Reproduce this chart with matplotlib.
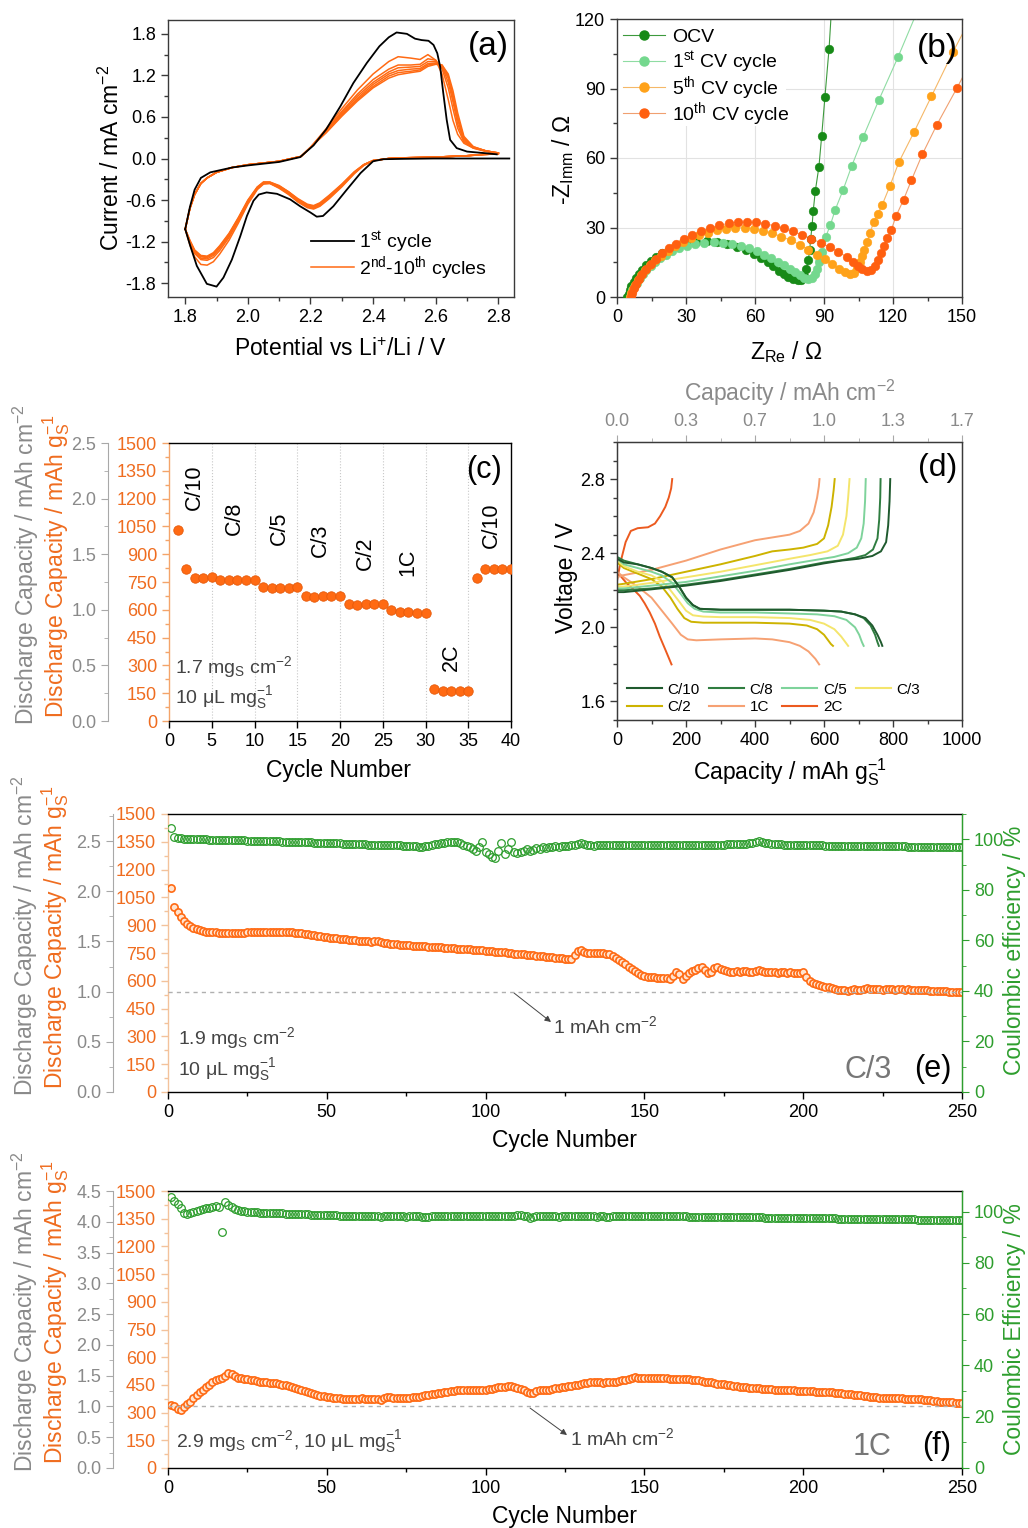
import numpy as np
import matplotlib
matplotlib.use('Agg')
import matplotlib.pyplot as plt
from matplotlib.ticker import MultipleLocator, FormatStrFormatter, FixedLocator, FixedFormatter
from matplotlib.lines import Line2D
from matplotlib.patches import Rectangle

plt.rcParams.update({
    'font.family': ['Liberation Sans', 'DejaVu Sans'],
    'mathtext.fontset': 'custom',
    'mathtext.rm': 'Liberation Sans',
    'mathtext.it': 'Liberation Sans:italic',
    'mathtext.bf': 'Liberation Sans:bold',
    'mathtext.default': 'regular',
    'axes.unicode_minus': False,
})

# ------------------------------------------------------------------ data
# (a) cyclic voltammetry
a_bk_up_v = [1.80, 1.815, 1.83, 1.85, 1.88, 1.95, 2.00, 2.10, 2.167, 2.21, 2.25, 2.295, 2.337, 2.38, 2.42,
             2.45, 2.475, 2.508, 2.534, 2.555, 2.577, 2.593, 2.605, 2.614, 2.624, 2.635, 2.646, 2.667, 2.70,
             2.75, 2.795]
a_bk_up_i = [-1.02, -0.70, -0.45, -0.28, -0.20, -0.13, -0.10, -0.05, 0.02, 0.19, 0.42, 0.75, 1.09, 1.38, 1.62,
             1.75, 1.82, 1.80, 1.73, 1.71, 1.70, 1.64, 1.52, 1.33, 0.95, 0.56, 0.27, 0.15, 0.10, 0.08, 0.06]
a_bk_dn_v = [2.835, 2.70, 2.593, 2.50, 2.433, 2.40, 2.36, 2.316, 2.273, 2.24, 2.22, 2.20, 2.167, 2.135, 2.093,
             2.06, 2.035, 2.018, 1.997, 1.976, 1.949, 1.922, 1.90, 1.869, 1.837, 1.816, 1.80]
a_bk_dn_i = [0.0, 0.0, 0.0, -0.005, -0.01, -0.04, -0.21, -0.45, -0.69, -0.83, -0.84, -0.78, -0.69, -0.59, -0.51,
             -0.49, -0.52, -0.61, -0.83, -1.12, -1.46, -1.72, -1.85, -1.81, -1.55, -1.26, -1.02]

a_or_up_v = [1.80, 1.815, 1.83, 1.85, 1.87, 1.90, 1.95, 2.00, 2.10, 2.17, 2.20, 2.25, 2.30, 2.35, 2.40, 2.45,
             2.48, 2.52, 2.55, 2.575, 2.60, 2.62, 2.64, 2.655, 2.67, 2.69, 2.72, 2.76, 2.80]
a_up_c2 = [-1.02, -0.72, -0.52, -0.36, -0.28, -0.20, -0.13, -0.09, -0.04, 0.03, 0.16,
           0.43, 0.72, 0.99, 1.22, 1.40, 1.47, 1.45, 1.43, 1.50, 1.42, 1.22, 0.85, 0.55, 0.35, 0.22, 0.15, 0.10, 0.07]
a_up_c3 = [-1.02, -0.72, -0.52, -0.36, -0.28, -0.20, -0.13, -0.09, -0.04, 0.03, 0.16,
           0.41, 0.68, 0.93, 1.14, 1.29, 1.35, 1.35, 1.36, 1.44, 1.42, 1.30, 1.02, 0.72, 0.44, 0.24, 0.15, 0.11, 0.07]
a_up_c4 = [-1.02, -0.72, -0.52, -0.36, -0.28, -0.20, -0.13, -0.09, -0.04, 0.03, 0.16,
           0.40, 0.66, 0.90, 1.10, 1.25, 1.31, 1.32, 1.33, 1.40, 1.40, 1.33, 1.10, 0.82, 0.50, 0.26, 0.16, 0.11, 0.08]
a_up_c6 = [-1.02, -0.72, -0.52, -0.36, -0.28, -0.20, -0.13, -0.09, -0.04, 0.03, 0.16,
           0.39, 0.64, 0.87, 1.07, 1.22, 1.27, 1.29, 1.30, 1.37, 1.38, 1.34, 1.16, 0.88, 0.56, 0.28, 0.16, 0.11, 0.08]
a_up_c8 = [-1.02, -0.72, -0.52, -0.36, -0.28, -0.20, -0.13, -0.09, -0.04, 0.03, 0.16,
           0.38, 0.62, 0.85, 1.04, 1.19, 1.24, 1.26, 1.28, 1.35, 1.37, 1.35, 1.19, 0.92, 0.60, 0.30, 0.17, 0.11, 0.08]
a_up_c10 = [-1.02, -0.72, -0.52, -0.36, -0.28, -0.20, -0.13, -0.09, -0.04, 0.03, 0.16,
            0.37, 0.61, 0.83, 1.02, 1.16, 1.21, 1.24, 1.26, 1.33, 1.36, 1.35, 1.22, 0.98, 0.66, 0.32, 0.17, 0.11, 0.08]

a_or_dn_v = [2.80, 2.70, 2.60, 2.50, 2.45, 2.40, 2.37, 2.34, 2.30, 2.26, 2.23, 2.21, 2.19, 2.16, 2.13, 2.10,
             2.07, 2.05, 2.03, 2.00, 1.97, 1.94, 1.91, 1.89, 1.87, 1.85, 1.83, 1.815, 1.80]
a_dn_c2 = [0.07, 0.04, 0.02, 0.01, 0.0, -0.03, -0.10, -0.22, -0.41, -0.58, -0.69, -0.73, -0.71, -0.63, -0.52,
           -0.43, -0.36, -0.37, -0.45, -0.66, -0.93, -1.18, -1.38, -1.49, -1.54, -1.53, -1.42, -1.25, -1.02]
a_dn_c3 = [0.07, 0.04, 0.02, 0.01, 0.0, -0.03, -0.10, -0.21, -0.40, -0.57, -0.68, -0.72, -0.70, -0.62, -0.51,
           -0.42, -0.36, -0.36, -0.44, -0.64, -0.90, -1.14, -1.33, -1.43, -1.47, -1.46, -1.37, -1.22, -1.02]
a_dn_c4 = [0.07, 0.04, 0.02, 0.01, 0.0, -0.03, -0.09, -0.21, -0.39, -0.56, -0.67, -0.71, -0.69, -0.61, -0.50,
           -0.41, -0.35, -0.35, -0.43, -0.63, -0.88, -1.12, -1.30, -1.40, -1.45, -1.44, -1.36, -1.21, -1.02]
a_dn_c6 = [0.08, 0.04, 0.02, 0.01, 0.0, -0.03, -0.09, -0.20, -0.38, -0.55, -0.66, -0.70, -0.68, -0.60, -0.49,
           -0.40, -0.35, -0.35, -0.42, -0.62, -0.87, -1.10, -1.28, -1.38, -1.43, -1.42, -1.34, -1.20, -1.02]
a_dn_c8 = [0.08, 0.04, 0.02, 0.01, 0.0, -0.03, -0.09, -0.20, -0.38, -0.54, -0.65, -0.69, -0.67, -0.59, -0.48,
           -0.40, -0.34, -0.34, -0.42, -0.61, -0.86, -1.09, -1.27, -1.37, -1.42, -1.41, -1.33, -1.19, -1.02]
a_dn_c10 = [0.08, 0.04, 0.02, 0.01, 0.0, -0.03, -0.09, -0.19, -0.37, -0.53, -0.64, -0.68, -0.66, -0.58, -0.48,
            -0.39, -0.34, -0.34, -0.41, -0.60, -0.85, -1.08, -1.26, -1.36, -1.41, -1.40, -1.32, -1.18, -1.02]

# (b) Nyquist (Z_Re, -Z_Imm)
b_ocv = [(4.5, 0), (5, 1.5), (5.5, 3), (6.3, 4.8), (7.2, 6.5), (8.3, 8.3), (9.5, 10), (11, 11.8), (12.8, 13.6),
         (14.8, 15.4), (17, 17.2), (19.5, 18.9), (22.5, 20.5), (26, 21.9), (30, 23.1), (34.5, 23.8), (39, 24),
         (43.5, 23.6), (48, 22.8), (52, 21.7), (56, 20.2), (59.5, 18.6), (62.5, 16.9), (65.5, 15), (68, 13.2),
         (70.5, 11.3), (72.5, 9.8), (74.5, 8.5), (76.5, 7.6), (78.5, 7.2), (80, 7.5), (81.2, 9), (82.3, 12),
         (83.2, 16), (83.8, 20.5), (84.2, 25.2), (84.8, 30.5), (85.3, 37), (86.2, 45.6), (87.8, 56.3),
         (89, 69.6), (90.4, 86.3), (92.2, 107.2), (93.3, 125)]
b_cv1 = [(5.5, 0), (6, 1.4), (6.7, 2.9), (7.5, 4.5), (8.5, 6.2), (9.8, 8), (11.2, 9.8), (12.8, 11.6), (14.6, 13.4),
         (16.6, 15.1), (18.8, 16.8), (21.2, 18.3), (24, 19.8), (27, 21), (30.5, 22), (34, 22.9), (38, 23.5),
         (42, 23.7), (46, 23.5), (50, 23), (54, 22.1), (57.5, 21), (61, 19.7), (64, 18.3), (67, 16.8), (70, 15.2),
         (72.5, 13.7), (75, 12.2), (77.5, 10.6), (79.5, 9.3), (81.5, 8.2), (83.2, 7.6), (84.8, 8.2), (86, 9.8),
         (87, 12.2), (88, 15.2), (89.2, 19.5), (90.7, 25.8), (92.8, 31.2), (94.9, 37.7), (98.3, 46.2),
         (102, 56.4), (107, 69), (113.8, 84.9), (122.2, 103.6), (130, 122)]
b_cv5 = [(5.5, 0), (6, 1.6), (6.8, 3.3), (7.8, 5.2), (9, 7.2), (10.5, 9.3), (12.2, 11.5), (14.2, 13.7),
         (16.5, 15.8), (19, 17.9), (22, 20), (25, 21.9), (28.5, 23.7), (32, 25.3), (35.5, 26.6), (39.5, 27.8),
         (43.5, 28.8), (47.5, 29.5), (51.5, 29.9), (55.5, 29.9), (59.5, 29.5), (63.5, 28.6), (67.5, 27.5),
         (71.5, 26.1), (75.5, 24.5), (79.5, 22.6), (83.2, 20.5), (86.8, 18.3), (90.3, 16.2), (93.6, 14.1),
         (96.6, 12.2), (99, 10.8), (101.2, 10.1), (103, 10.5), (104.4, 12.5), (105.5, 15), (106.4, 17.5),
         (107.4, 20.3), (108.6, 23.6), (110, 27.5), (111.6, 32.5), (113.4, 36), (115.2, 39.5), (118.6, 47.8),
         (122.6, 58.3), (129.1, 71.1), (136.7, 86.6), (146, 105.6), (152, 117)]
b_cv10 = [(6, 0), (6.5, 1.8), (7.3, 3.7), (8.3, 5.7), (9.5, 7.8), (11, 10), (12.8, 12.2), (14.8, 14.4),
          (17, 16.6), (19.5, 18.8), (22.5, 21), (25.5, 23), (29, 25), (32.5, 26.8), (36.5, 28.4), (40.5, 29.8),
          (44.5, 30.9), (48.5, 31.8), (52.5, 32.3), (56.5, 32.4), (60.5, 32.2), (64.5, 31.6), (68.5, 30.7),
          (72.5, 29.6), (76.5, 28.3), (80.5, 26.8), (84.5, 25.2), (88.5, 23.4), (92.5, 21.5), (96.2, 19.5),
          (99.8, 17.4), (102.5, 15.3), (104.8, 13.3), (106.7, 12), (108.5, 11.3), (110.4, 11.6), (112, 13.2),
          (113.4, 16), (114.9, 19.2), (116.2, 22.2), (117.4, 25.3), (119.3, 29.1), (121.4, 35.1), (124.6, 42),
          (128, 50.4), (132.8, 61.7), (139.1, 74.4), (147.8, 90.2), (153, 100)]

# (c) rate capability
c_cap = [1029, 818, 772, 772, 775, 763, 759, 759, 763, 763, 723, 716, 716, 719, 721, 676, 669, 673, 674, 676,
         631, 628, 629, 631, 633, 599, 586, 586, 585, 585, 173, 162, 162, 160, 160, 773, 818, 820, 818, 818]
c_rates = ['C/10', 'C/8', 'C/5', 'C/3', 'C/2', '1C', '2C', 'C/10']
c_rate_x = [3.0, 7.6, 12.9, 17.7, 23.0, 27.9, 33.0, 37.7]
c_rate_y = [1263, 1092, 1038, 975, 903, 858, 345, 1056]
c_group_edges = [5, 10, 15, 20, 25, 30, 35]

# (d) galvanostatic profiles (capacity mAh/g, voltage V)
d_c10_ch = [(0, 2.19), (20, 2.19), (100, 2.205), (200, 2.225), (300, 2.25), (400, 2.28), (500, 2.31), (600, 2.345),
            (650, 2.36), (700, 2.37), (740, 2.385), (765, 2.41), (780, 2.46), (786, 2.55), (790, 2.68), (792, 2.80)]
d_c10_dc = [(0, 2.37), (20, 2.35), (60, 2.34), (100, 2.32), (130, 2.30), (160, 2.27), (180, 2.22), (200, 2.16),
            (220, 2.12), (240, 2.10), (300, 2.095), (400, 2.095), (500, 2.095), (600, 2.09), (650, 2.085),
            (690, 2.07), (720, 2.05), (740, 2.01), (755, 1.96), (765, 1.92), (769, 1.90)]
d_c8_ch = [(0, 2.20), (20, 2.20), (100, 2.21), (200, 2.23), (300, 2.255), (400, 2.285), (500, 2.315), (600, 2.35),
           (650, 2.362), (690, 2.375), (720, 2.39), (742, 2.42), (755, 2.48), (760, 2.58), (763, 2.70), (764, 2.80)]
d_c8_dc = [(0, 2.38), (20, 2.36), (60, 2.34), (100, 2.32), (130, 2.30), (160, 2.27), (180, 2.22), (200, 2.16),
           (220, 2.12), (240, 2.10), (300, 2.095), (400, 2.095), (500, 2.095), (600, 2.09), (650, 2.085),
           (690, 2.07), (715, 2.05), (735, 2.01), (748, 1.96), (755, 1.92), (759, 1.90)]
d_c5_ch = [(0, 2.21), (20, 2.21), (100, 2.225), (200, 2.245), (300, 2.275), (400, 2.305), (500, 2.34), (580, 2.365),
           (630, 2.38), (670, 2.40), (695, 2.43), (708, 2.48), (715, 2.56), (719, 2.68), (721, 2.80)]
d_c5_dc = [(0, 2.37), (20, 2.34), (60, 2.32), (100, 2.30), (130, 2.28), (160, 2.24), (185, 2.18), (205, 2.13),
           (225, 2.10), (250, 2.085), (300, 2.08), (400, 2.08), (500, 2.075), (580, 2.07), (630, 2.06),
           (665, 2.04), (690, 2.00), (702, 1.96), (710, 1.92), (715, 1.90)]
d_c3_ch = [(0, 2.22), (20, 2.22), (100, 2.24), (200, 2.27), (300, 2.30), (400, 2.335), (500, 2.37), (560, 2.39),
           (610, 2.41), (640, 2.44), (655, 2.50), (665, 2.60), (670, 2.70), (674, 2.80)]
d_c3_dc = [(0, 2.36), (20, 2.33), (60, 2.30), (100, 2.28), (130, 2.25), (155, 2.20), (180, 2.14), (200, 2.09),
           (220, 2.065), (250, 2.058), (300, 2.055), (400, 2.055), (500, 2.05), (560, 2.04), (600, 2.02),
           (630, 1.99), (650, 1.95), (662, 1.92), (670, 1.90)]
d_c2_ch = [(0, 2.23), (20, 2.235), (100, 2.26), (200, 2.30), (300, 2.34), (400, 2.385), (450, 2.41), (500, 2.42),
           (540, 2.43), (580, 2.45), (600, 2.48), (612, 2.55), (622, 2.65), (628, 2.74), (631, 2.80)]
d_c2_dc = [(0, 2.35), (20, 2.32), (60, 2.29), (100, 2.26), (130, 2.22), (155, 2.16), (175, 2.10), (195, 2.05),
           (215, 2.03), (250, 2.025), (300, 2.025), (400, 2.025), (500, 2.02), (550, 2.01), (580, 1.99),
           (600, 1.96), (612, 1.93), (620, 1.91), (626, 1.90)]
d_1c_ch = [(0, 2.27), (15, 2.28), (100, 2.31), (200, 2.36), (300, 2.42), (400, 2.47), (450, 2.485), (500, 2.50),
           (530, 2.52), (555, 2.56), (570, 2.62), (580, 2.70), (585, 2.76), (587, 2.80)]
d_1c_dc = [(0, 2.30), (20, 2.27), (60, 2.22), (100, 2.16), (130, 2.09), (160, 2.02), (185, 1.96), (205, 1.935),
           (230, 1.93), (300, 1.935), (400, 1.94), (450, 1.935), (500, 1.92), (530, 1.90), (555, 1.87),
           (575, 1.83), (586, 1.80)]
d_2c_ch = [(0, 2.25), (10, 2.35), (25, 2.46), (40, 2.52), (60, 2.535), (90, 2.54), (110, 2.56), (125, 2.60),
           (140, 2.65), (150, 2.70), (157, 2.75), (160, 2.80)]
d_2c_dc = [(0, 2.30), (27, 2.24), (50, 2.20), (66, 2.17), (80, 2.13), (95, 2.08), (110, 2.02), (124, 1.95),
           (140, 1.88), (158, 1.80)]
d_top_pos = [0, 200, 400, 600, 800, 1000]
d_top_labels = ['0.0', '0.3', '0.7', '1.0', '1.3', '1.7']

# (e) long cycling at C/3
e_cap = [1100, 998, 972, 945, 924, 907, 893, 884, 877, 872,
         868, 866, 864, 862, 861, 860, 860, 859, 859, 858,
         858, 858, 859, 860, 861, 862, 863, 864, 865, 866,
         866, 866, 866, 866, 865, 865, 864, 863, 862, 860,
         858, 856, 853, 850, 848, 846, 843, 840, 838, 835,
         833, 831, 829, 827, 825, 824, 822, 820, 818, 817,
         815, 814, 813, 812, 813, 815, 812, 806, 802, 800,
         798, 796, 795, 793, 792, 791, 790, 789, 788, 787,
         786, 785, 784, 782, 781, 780, 779, 778, 777, 775,
         774, 773, 772, 771, 770, 768, 767, 766, 765, 763,
         762, 760, 758, 757, 755, 753, 751, 749, 747, 745,
         744, 742, 741, 740, 738, 736, 734, 732, 730, 728,
         726, 724, 722, 721, 720, 719, 720, 740, 762, 765,
         758, 752, 750, 751, 750, 749, 748, 746, 742, 735,
         725, 712, 700, 688, 676, 665, 652, 640, 630, 624,
         620, 619, 618, 617, 616, 615, 614, 612, 625, 650,
         635, 612, 625, 640, 652, 660, 668, 674, 660, 640,
         650, 668, 675, 665, 658, 652, 650, 648, 652, 648,
         652, 655, 650, 646, 655, 660, 652, 645, 648, 650,
         646, 644, 648, 645, 643, 646, 644, 640, 642, 645,
         620, 600, 590, 582, 578, 572, 568, 564, 560, 557,
         553, 550, 548, 546, 550, 556, 553, 550, 556, 560,
         556, 554, 558, 555, 552, 556, 558, 555, 553, 556,
         554, 552, 555, 553, 550, 552, 550, 548, 549, 546,
         547, 545, 546, 543, 544, 541, 542, 540, 539, 538]
e_ce = [104.5, 100.8, 100.5, 100.4, 100.3, 100.3, 100.2, 100.2, 100.1, 100.1,
        100.0, 100.0, 99.9, 99.9, 99.9, 99.8, 99.8, 99.8, 99.7, 99.7,
        99.7, 99.6, 99.6, 99.6, 99.5, 99.5, 99.5, 99.4, 99.4, 99.4,
        99.3, 99.3, 99.3, 99.2, 99.2, 99.1, 99.1, 99.0, 99.0, 99.0,
        98.9, 98.9, 98.8, 98.8, 98.8, 98.7, 98.7, 98.7, 98.6, 98.6,
        98.5, 98.5, 98.4, 98.4, 98.3, 98.3, 98.2, 98.2, 98.1, 98.1,
        98.0, 98.0, 97.9, 97.9, 97.9, 97.8, 97.8, 97.8, 97.7, 97.7,
        97.7, 97.6, 97.6, 97.5, 97.5, 97.4, 97.3, 97.2, 97.1, 97.0,
        97.2, 97.5, 97.8, 98.0, 98.2, 98.4, 98.6, 98.8, 98.9, 99.0,
        98.8, 98.4, 97.8, 97.2, 96.8, 96.2, 95.5, 96.8, 99.0, 95.0,
        94.0, 93.0, 92.5, 95.5, 98.5, 94.0, 96.0, 99.0, 95.0, 94.5,
        95.0, 95.5, 96.0, 95.2, 95.8, 96.5, 96.0, 96.8, 96.5, 97.0,
        96.8, 97.2, 97.0, 97.3, 97.5, 97.3, 97.6, 97.8, 98.0, 98.5,
        98.2, 97.8, 97.6, 97.5, 97.6, 97.7, 97.7, 97.8, 97.8, 97.8,
        97.7, 97.7, 97.8, 97.8, 97.7, 97.7, 97.6, 97.6, 97.6, 97.7,
        97.7, 97.6, 97.6, 97.6, 97.7, 97.7, 97.6, 97.6, 97.7, 97.7,
        97.7, 97.6, 97.6, 97.7, 97.7, 97.7, 97.6, 97.7, 97.7, 97.8,
        97.8, 97.8, 97.9, 97.9, 97.9, 98.0, 98.0, 98.0, 98.1, 98.1,
        98.2, 98.3, 98.5, 98.7, 99.0, 99.2, 99.0, 98.7, 98.4, 98.2,
        98.1, 98.0, 98.0, 97.9, 97.9, 97.8, 97.8, 97.8, 97.7, 97.7,
        97.7, 97.7, 97.6, 97.6, 97.6, 97.6, 97.5, 97.5, 97.5, 97.5,
        97.5, 97.5, 97.4, 97.4, 97.4, 97.4, 97.4, 97.4, 97.3, 97.3,
        97.3, 97.3, 97.3, 97.3, 97.3, 97.2, 97.2, 97.2, 97.2, 97.2,
        97.2, 97.2, 97.1, 97.1, 97.1, 97.1, 97.1, 97.1, 97.1, 97.0,
        97.0, 97.0, 97.0, 97.0, 97.0, 97.0, 96.9, 96.9, 96.9, 96.9]

# (f) long cycling at 1C
f_cap = [342, 336, 322, 314, 330, 346, 360, 379, 395, 410,
         425, 436, 450, 465, 476, 482, 487, 500, 514, 510,
         498, 490, 486, 482, 480, 478, 474, 470, 468, 466,
         464, 462, 460, 458, 455, 451, 447, 442, 437, 432,
         427, 422, 417, 412, 406, 401, 396, 392, 389, 386,
         383, 381, 379, 378, 376, 375, 374, 373, 372, 373,
         378, 376, 374, 373, 372, 371, 370, 378, 382, 382,
         381, 380, 380, 380, 380, 381, 382, 384, 387, 390,
         393, 396, 399, 402, 405, 408, 411, 414, 416, 418,
         420, 421, 422, 422, 423, 423, 423, 424, 424, 425,
         427, 430, 433, 436, 438, 440, 442, 443, 440, 435,
         428, 420, 412, 406, 405, 415, 420, 422, 423, 425,
         428, 431, 434, 437, 440, 443, 446, 449, 452, 455,
         458, 461, 463, 464, 465, 463, 462, 465, 468, 466,
         468, 472, 475, 476, 480, 488, 493, 490, 488, 487,
         487, 486, 486, 485, 486, 486, 485, 484, 484, 483,
         482, 482, 481, 480, 479, 477, 474, 471, 468, 466,
         463, 460, 457, 455, 453, 451, 449, 446, 443, 441,
         439, 437, 435, 433, 432, 431, 429, 428, 427, 426,
         425, 424, 423, 423, 422, 421, 420, 419, 418, 418,
         417, 416, 415, 414, 413, 412, 411, 410, 409, 408,
         406, 404, 402, 401, 399, 397, 395, 393, 391, 389,
         387, 385, 383, 381, 381, 381, 380, 379, 378, 378,
         377, 376, 375, 374, 373, 372, 371, 370, 368, 366,
         364, 362, 360, 358, 357, 356, 355, 354, 353, 352]
f_ce = [105.5, 104.2, 102.8, 101.2, 99.6, 99.0, 99.3, 99.8, 100.2, 100.5,
        100.8, 101.2, 101.5, 101.8, 102.0, 101.8, 92.0, 103.8, 102.5, 101.6,
        101.0, 100.6, 100.3, 100.1, 100.0, 99.9, 99.8, 99.7, 99.6, 99.6,
        99.5, 99.5, 99.4, 99.4, 99.3, 99.3, 99.2, 99.2, 99.1, 99.1,
        99.0, 99.0, 98.9, 98.9, 98.8, 98.8, 98.7, 98.7, 98.6, 98.6,
        98.5, 98.5, 98.5, 98.4, 98.4, 98.4, 98.3, 98.3, 98.3, 98.2,
        98.2, 98.1, 98.2, 98.3, 98.2, 98.1, 98.0, 98.2, 98.3, 98.2,
        98.1, 98.2, 98.2, 98.1, 98.0, 98.1, 98.2, 98.2, 98.1, 98.0,
        97.9, 98.0, 98.1, 98.2, 98.2, 98.1, 98.1, 98.2, 98.3, 98.2,
        98.2, 98.3, 98.3, 98.2, 98.2, 98.3, 98.4, 98.3, 98.2, 98.3,
        98.3, 98.4, 98.4, 98.3, 98.3, 98.2, 98.3, 98.4, 98.4, 98.5,
        98.5, 98.4, 98.2, 97.6, 98.0, 98.3, 98.4, 98.3, 98.2, 98.2,
        98.1, 98.1, 98.0, 98.1, 98.2, 98.2, 98.3, 98.3, 98.3, 98.4,
        98.4, 98.3, 98.2, 98.1, 98.0, 98.1, 98.2, 98.0, 97.8, 98.2,
        98.3, 98.4, 98.4, 98.3, 98.3, 98.4, 98.4, 98.3, 98.3, 98.3,
        98.3, 98.3, 98.2, 98.2, 98.2, 98.2, 98.2, 98.1, 98.1, 98.1,
        98.1, 98.1, 98.1, 98.0, 98.0, 98.0, 98.0, 98.0, 97.9, 97.9,
        97.9, 97.9, 97.9, 97.9, 97.8, 97.8, 97.8, 97.8, 97.8, 97.8,
        97.8, 97.7, 97.7, 97.7, 97.7, 97.7, 97.7, 97.6, 97.6, 97.6,
        97.6, 97.6, 97.6, 97.5, 97.5, 97.5, 97.5, 97.5, 97.4, 97.4,
        97.4, 97.4, 97.4, 97.4, 97.3, 97.3, 97.3, 97.3, 97.3, 97.3,
        97.2, 97.2, 97.2, 97.2, 97.2, 97.2, 97.1, 97.1, 97.1, 97.1,
        97.1, 97.1, 97.0, 97.0, 97.0, 97.0, 97.0, 97.0, 96.9, 96.9,
        96.9, 96.9, 96.9, 96.9, 96.9, 96.8, 96.8, 96.8, 96.8, 96.8,
        96.8, 96.7, 96.7, 96.7, 96.7, 96.7, 96.6, 96.6, 96.6, 96.5]

ref_areal = 1.0  # mAh cm-2 reference line

# ------------------------------------------------------------------ style
ORA = '#FF6A13'
ORA_TX = '#EF6C1F'
ORA_SP_C = '#F4A46A'
ORA_SP_E = '#F3C29B'
GRAY_TX = '#8A8A8A'
GRAY_SP = '#A8A8A8'
GREEN = '#2E9E2E'
SPC = '#3a3a3a'
DARK = '#444444'
TICK_FS = 13
LAB_FS = 16.5
PANEL_FS = 22

W, H = 1028, 1528
def rect(l, t, r, b):
    return [l / W, 1 - b / H, (r - l) / W, (b - t) / H]
def fxy(x, y):
    return (x / W, 1 - y / H)

def base_style(ax, spc=SPC):
    for s in ax.spines.values():
        s.set_color(spc)
        s.set_linewidth(1.0)
    ax.tick_params(which='both', direction='out', labelsize=TICK_FS, width=1.0, color=spc, labelcolor='black')
    ax.tick_params(which='major', length=5)
    ax.tick_params(which='minor', length=3)

def gray_axis(ax, offset, ylim, major, minor):
    g = ax.twinx()
    g.set_ylim(*ylim)
    g.yaxis.tick_left()
    g.yaxis.set_label_position('left')
    for s in ['right', 'top', 'bottom']:
        g.spines[s].set_visible(False)
    g.spines['left'].set_visible(True)
    g.spines['left'].set_position(('axes', offset))
    g.spines['left'].set_color(GRAY_SP)
    g.yaxis.set_major_locator(MultipleLocator(major))
    g.yaxis.set_minor_locator(MultipleLocator(minor))
    g.yaxis.set_major_formatter(FormatStrFormatter('%.1f'))
    g.tick_params(axis='y', which='both', direction='out', labelsize=TICK_FS, color=GRAY_SP, labelcolor=GRAY_TX)
    g.tick_params(axis='y', which='major', length=5)
    g.tick_params(axis='y', which='minor', length=3)
    return g

def ftext(x, y, s, **kw):
    fig.text(*fxy(x, y), s, **kw)

def legend_row(x0, x1, xt, y, label, color, lw, marker=None, mfc=None, fs=14):
    """A legend entry drawn at figure-pixel positions."""
    xa, ya = fxy(x0, y)
    xb, _ = fxy(x1, y)
    fig.add_artist(Line2D([xa, xb], [ya, ya], transform=fig.transFigure, color=color, lw=lw))
    if marker:
        fig.add_artist(Line2D([(xa + xb) / 2], [ya], transform=fig.transFigure, ls='none', marker=marker,
                              ms=6.5, mfc=mfc, mec=mfc))
    ftext(xt, y + 7, label, fontsize=fs, ha='left', va='baseline')

fig = plt.figure(figsize=(10.28, 15.28), dpi=100)

# ------------------------------------------------------------------ (a)
axa = fig.add_axes(rect(168, 20, 514, 297))
base_style(axa)
for ys in [a_up_c2, a_up_c3, a_up_c4, a_up_c6, a_up_c8, a_up_c10]:
    axa.plot(a_or_up_v, ys, color=ORA, lw=1.1)
for ys in [a_dn_c2, a_dn_c3, a_dn_c4, a_dn_c6, a_dn_c8, a_dn_c10]:
    axa.plot(a_or_dn_v, ys, color=ORA, lw=1.1)
axa.plot(a_bk_up_v, a_bk_up_i, color='black', lw=1.3)
axa.plot(a_bk_dn_v, a_bk_dn_i, color='black', lw=1.3)
axa.set_xlim(1.745, 2.85)
axa.set_ylim(-2.0, 2.0)
axa.xaxis.set_major_locator(MultipleLocator(0.2))
axa.xaxis.set_minor_locator(MultipleLocator(0.1))
axa.yaxis.set_major_locator(MultipleLocator(0.6))
axa.yaxis.set_minor_locator(MultipleLocator(0.3))
axa.xaxis.set_major_formatter(FormatStrFormatter('%.1f'))
axa.yaxis.set_major_formatter(FormatStrFormatter('%.1f'))
legend_row(311, 354, 359, 241, '1$^{st}$ cycle', 'black', 1.3)
legend_row(311, 354, 359, 267, '2$^{nd}$-10$^{th}$ cycles', ORA, 1.1)
ftext(488, 46, '(a)', fontsize=PANEL_FS + 2, ha='center', va='center')
ftext(341, 350, 'Potential vs Li$^{+}$/Li / V', fontsize=LAB_FS, ha='center', va='center')
ftext(111, 158, 'Current / mA cm$^{-2}$', fontsize=LAB_FS, ha='center', va='center', rotation=90)

# ------------------------------------------------------------------ (b)
axb = fig.add_axes(rect(617, 19, 962, 297))
base_style(axb)
b_series = [(b_ocv, 'OCV', '#178A17', '#3D9A3D'), (b_cv1, '1$^{st}$ CV cycle', '#74D88E', '#8FDCA3'),
            (b_cv5, '5$^{th}$ CV cycle', '#FFA21A', '#F5B868'), (b_cv10, '10$^{th}$ CV cycle', '#FF5F10', '#F0A070')]
for pts, lab, mc, lc in b_series:
    xs = [p[0] for p in pts]
    ys = [p[1] for p in pts]
    axb.plot(xs, ys, '-', color=lc, lw=0.8, zorder=2)
    axb.plot(xs, ys, 'o', ms=6.3, mfc=mc, mec=mc, mew=0.3, zorder=3)
axb.set_xlim(0, 150)
axb.set_ylim(0, 120)
axb.xaxis.set_major_locator(MultipleLocator(30))
axb.xaxis.set_minor_locator(MultipleLocator(15))
axb.yaxis.set_major_locator(MultipleLocator(30))
axb.yaxis.set_minor_locator(MultipleLocator(15))
axb.grid(True, which='major', color='#E2E2E2', lw=0.8, zorder=0)
axb.set_axisbelow(True)
# white legend background
x0b, y0b = axb.transAxes.inverted().transform(fig.transFigure.transform(fxy(618, 126)))
x1b, y1b = axb.transAxes.inverted().transform(fig.transFigure.transform(fxy(786, 20)))
axb.add_patch(Rectangle((x0b, y0b), x1b - x0b, y1b - y0b, transform=axb.transAxes,
                        facecolor='white', edgecolor='none', zorder=1))
for i, (pts, lab, mc, lc) in enumerate(b_series):
    legend_row(623, 665, 672, 35 + 26 * i, lab, lc, 0.8, marker='o', mfc=mc)
ftext(937, 48, '(b)', fontsize=PANEL_FS + 2, ha='center', va='center')
ftext(786, 352, 'Z$_{Re}$ / Ω', fontsize=LAB_FS, ha='center', va='center')
ftext(563, 160, '-Z$_{Imm}$ / Ω', fontsize=LAB_FS, ha='center', va='center', rotation=90)

# ------------------------------------------------------------------ (c)
axc = fig.add_axes(rect(169, 443, 511, 721))
base_style(axc, 'black')
axc.spines['left'].set_color(ORA_SP_C)
axc.tick_params(axis='y', which='both', color=ORA_SP_C, labelcolor=ORA_TX)
c_cycle = np.arange(1, len(c_cap) + 1)
axc.plot(c_cycle, c_cap, 'o', ms=6.8, mfc=ORA, mec='#E65A0A', mew=0.6, zorder=3)
for xe in c_group_edges:
    axc.axvline(xe, color='#C8C8C8', ls=':', lw=0.8, zorder=1)
for lab, xx, yy in zip(c_rates, c_rate_x, c_rate_y):
    axc.text(xx, yy, lab, rotation=90, fontsize=15.5, ha='center', va='center')
axc.set_xlim(0, 40)
axc.set_ylim(0, 1500)
axc.xaxis.set_major_locator(MultipleLocator(5))
axc.yaxis.set_major_locator(MultipleLocator(150))
axc.yaxis.set_minor_locator(MultipleLocator(75))
axc_g = gray_axis(axc, (108 - 169) / (511 - 169), (0, 2.5), 0.5, 0.25)
ftext(175, 667, '1.7 mg$_S$ cm$^{-2}$', fontsize=14, color=DARK, ha='left', va='center')
ftext(175, 698, '10 μL mg$_S^{-1}$', fontsize=14, color=DARK, ha='left', va='center')
ftext(484, 470, '(c)', fontsize=PANEL_FS, ha='center', va='center')
ftext(339, 770, 'Cycle Number', fontsize=LAB_FS, ha='center', va='center')
ftext(26, 565, 'Discharge Capacity / mAh cm$^{-2}$', fontsize=LAB_FS, color=GRAY_TX, ha='center', va='center', rotation=90)
ftext(56, 566, 'Discharge Capacity / mAh g$_S^{-1}$', fontsize=LAB_FS, color=ORA_TX, ha='center', va='center', rotation=90)

# ------------------------------------------------------------------ (d)
axd = fig.add_axes(rect(617, 442, 962, 720))
base_style(axd)
d_series = [('C/10', '#1F5A2E', d_c10_ch, d_c10_dc), ('C/8', '#2F7D40', d_c8_ch, d_c8_dc),
            ('C/5', '#7ED39B', d_c5_ch, d_c5_dc), ('C/3', '#F4E56C', d_c3_ch, d_c3_dc),
            ('C/2', '#CDB300', d_c2_ch, d_c2_dc), ('1C', '#F6A173', d_1c_ch, d_1c_dc),
            ('2C', '#EC5A1F', d_2c_ch, d_2c_dc)]
d_handles = {}
for lab, col, ch, dc in reversed(d_series):
    axd.plot([p[0] for p in ch], [p[1] for p in ch], color=col, lw=1.4)
    axd.plot([p[0] for p in dc], [p[1] for p in dc], color=col, lw=1.4)
    d_handles[lab] = Line2D([], [], color=col, lw=1.5)
axd.set_xlim(0, 1000)
axd.set_ylim(1.5, 3.0)
axd.xaxis.set_major_locator(MultipleLocator(200))
axd.xaxis.set_minor_locator(MultipleLocator(100))
axd.yaxis.set_major_locator(FixedLocator([1.6, 2.0, 2.4, 2.8]))
axd.yaxis.set_minor_locator(MultipleLocator(0.1))
axd.yaxis.set_major_formatter(FormatStrFormatter('%.1f'))
order = ['C/10', 'C/2', 'C/8', '1C', 'C/5', '2C', 'C/3']
axd.legend([d_handles[k] for k in order], order, ncol=4, loc='lower left', bbox_to_anchor=(0.029, 0.02),
           frameon=False, fontsize=11, borderpad=0, borderaxespad=0, handlelength=2.3, handletextpad=0.35,
           columnspacing=0.6, labelspacing=0.25)
axd_t = axd.twiny()
axd_t.set_xlim(0, 1000)
axd_t.xaxis.set_major_locator(FixedLocator(d_top_pos))
axd_t.xaxis.set_major_formatter(FixedFormatter(d_top_labels))
axd_t.xaxis.set_minor_locator(MultipleLocator(100))
for s in axd_t.spines.values():
    s.set_color(SPC)
axd_t.tick_params(axis='x', which='both', direction='out', labelsize=TICK_FS, color=GRAY_SP, labelcolor=GRAY_TX)
axd_t.tick_params(axis='x', which='major', length=5)
axd_t.tick_params(axis='x', which='minor', length=3)
ftext(938, 468, '(d)', fontsize=PANEL_FS + 1, ha='center', va='center')
ftext(790, 772, 'Capacity / mAh g$_S^{-1}$', fontsize=LAB_FS, ha='center', va='center')
ftext(790, 393, 'Capacity / mAh cm$^{-2}$', fontsize=LAB_FS, color=GRAY_TX, ha='center', va='center')
ftext(566, 578, 'Voltage / V', fontsize=LAB_FS, ha='center', va='center', rotation=90)

# ------------------------------------------------------------------ (e) and (f)
def long_panel(top, bot, cap, ce, gray_top, ce_top):
    ax = fig.add_axes(rect(168, top, 962, bot))
    base_style(ax, 'black')
    ax.spines['left'].set_color(ORA_SP_E)
    ax.spines['right'].set_color(GREEN)
    ax.tick_params(axis='y', which='both', color=ORA_SP_E, labelcolor=ORA_TX)
    cyc = np.arange(1, len(cap) + 1)
    ax.plot(cyc, cap, 'o', ms=5.2, mfc='#FFE4D0', mec=ORA, mew=1.2, zorder=3)
    ax.set_xlim(0, 250)
    ax.set_ylim(0, 1500)
    ax.xaxis.set_major_locator(MultipleLocator(50))
    ax.xaxis.set_minor_locator(MultipleLocator(25))
    ax.yaxis.set_major_locator(MultipleLocator(150))
    ax.yaxis.set_minor_locator(MultipleLocator(75))
    g = gray_axis(ax, (113 - 168) / (962 - 168), (0, gray_top), 0.5, 0.25)
    g.axhline(ref_areal, color='#B0B0B0', ls=(0, (3, 3)), lw=1.0, zorder=1)
    r = ax.twinx()
    r.set_ylim(0, ce_top)
    r.plot(cyc, ce, 'o', ms=5.5, mfc='none', mec=GREEN, mew=0.9)
    for s in ['left', 'top', 'bottom']:
        r.spines[s].set_visible(False)
    r.spines['right'].set_color(GREEN)
    r.yaxis.set_major_locator(MultipleLocator(20))
    r.yaxis.set_minor_locator(MultipleLocator(10))
    r.tick_params(axis='y', which='both', direction='out', labelsize=TICK_FS, color=GREEN, labelcolor=GREEN)
    r.tick_params(axis='y', which='major', length=5)
    r.tick_params(axis='y', which='minor', length=3)
    return ax

axe = long_panel(814, 1092, e_cap, e_ce, 2.77, 110)
ftext(178, 1038, '1.9 mg$_S$ cm$^{-2}$', fontsize=14, color=DARK, ha='left', va='center')
ftext(178, 1070, '10 μL mg$_S^{-1}$', fontsize=14, color=DARK, ha='left', va='center')
ftext(553, 1026, '1 mAh cm$^{-2}$', fontsize=14, color=DARK, ha='left', va='center')
axe.annotate('', xy=fxy(551, 1022), xytext=fxy(514, 993), xycoords='figure fraction', textcoords='figure fraction',
             arrowprops=dict(arrowstyle='-|>', color=DARK, lw=0.7, mutation_scale=9, shrinkA=0, shrinkB=0))
ftext(868, 1070, 'C/3', fontsize=PANEL_FS, color='#777777', ha='center', va='center')
ftext(933, 1069, '(e)', fontsize=PANEL_FS, ha='center', va='center')
ftext(565, 1141, 'Cycle Number', fontsize=LAB_FS, ha='center', va='center')
ftext(25, 936, 'Discharge Capacity / mAh cm$^{-2}$', fontsize=LAB_FS, color=GRAY_TX, ha='center', va='center', rotation=90)
ftext(55, 937, 'Discharge Capacity / mAh g$_S^{-1}$', fontsize=LAB_FS, color=ORA_TX, ha='center', va='center', rotation=90)
ftext(1015, 950, 'Coulombic efficiency / %', fontsize=LAB_FS, color=GREEN, ha='center', va='center', rotation=90)

axf = long_panel(1191, 1468, f_cap, f_ce, 4.5, 108)
ftext(176, 1442, '2.9 mg$_S$ cm$^{-2}$, 10 μL mg$_S^{-1}$', fontsize=14, color=DARK, ha='left', va='center')
ftext(570, 1438, '1 mAh cm$^{-2}$', fontsize=14, color=DARK, ha='left', va='center')
axf.annotate('', xy=fxy(567, 1435), xytext=fxy(530, 1408), xycoords='figure fraction', textcoords='figure fraction',
             arrowprops=dict(arrowstyle='-|>', color=DARK, lw=0.7, mutation_scale=9, shrinkA=0, shrinkB=0))
ftext(872, 1447, '1C', fontsize=PANEL_FS, color='#777777', ha='center', va='center')
ftext(937, 1446, '(f)', fontsize=PANEL_FS, ha='center', va='center')
ftext(565, 1516, 'Cycle Number', fontsize=LAB_FS, ha='center', va='center')
ftext(25, 1312, 'Discharge Capacity / mAh cm$^{-2}$', fontsize=LAB_FS, color=GRAY_TX, ha='center', va='center', rotation=90)
ftext(55, 1312, 'Discharge Capacity / mAh g$_S^{-1}$', fontsize=LAB_FS, color=ORA_TX, ha='center', va='center', rotation=90)
ftext(1015, 1329, 'Coulombic Efficiency / %', fontsize=LAB_FS, color=GREEN, ha='center', va='center', rotation=90)

fig.savefig('out.png', dpi=100)
